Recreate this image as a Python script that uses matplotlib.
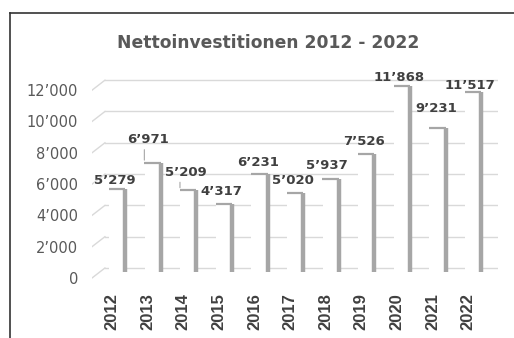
import numpy as np
import matplotlib
matplotlib.use("Agg")
import matplotlib.pyplot as plt
from matplotlib.lines import Line2D

plt.rcParams['font.family'] = ['DejaVu Sans']

# Daten
years = ["2012", "2013", "2014", "2015", "2016", "2017", "2018", "2019", "2020", "2021", "2022"]
values = [5279, 6971, 5209, 4317, 6231, 5020, 5937, 7526, 11868, 9231, 11517]
yticks = [0, 2000, 4000, 6000, 8000, 10000, 12000]

# Label-Versatz in Pixeln (dx, dy)
label_off = [(3, 9), (0, 23), (3, 18), (3, 13), (4, 12), (3, 13), (1, 14), (3, 13), (2, 9), (4, 19), (2, 6)]
leaders = {1, 2}


def fmt(v):
    return f"{v:,}".replace(",", "\u2019")


W, H = 514, 338
fig = plt.figure(figsize=(W / 100, H / 100), dpi=100)
ax = fig.add_axes([92 / W, (H - 282) / H, 406 / W, 212 / H])

px_per_unit = 0.01565          # Pixel pro Wert
front = 6 / px_per_unit        # vordere Ebene (Achsenbeschriftung)
back = 4 / px_per_unit         # hintere Ebene (Gitter)

x = np.arange(len(years))
grid_c = "#d9d9d9"
bar_c = "#a6a6a6"

# Gitter auf der Rückwand + schräge Bodenlinien
for v in yticks:
    ax.plot([-0.197, 10.84], [v + back, v + back], color=grid_c, lw=1.0, zorder=1)
    ax.plot([-0.56, -0.197], [v - front, v + back], color=grid_c, lw=1.0, zorder=1)

# 3D-artige Säulen: weisse Front, graue Seite und Deckel
ax.bar(x + 0.125, values, width=0.42, color="white", zorder=2)
ax.vlines(x + 0.37, 0, values, color=bar_c, lw=3.2, zorder=3)
ax.hlines(values, x - 0.09, x + 0.37, color=bar_c, lw=1.6, zorder=3)

for i, v in enumerate(values):
    dx, dy = label_off[i]
    ax.annotate(fmt(v), (x[i], v), xytext=(dx, dy), textcoords="offset pixels",
                ha="center", va="center", fontsize=9.5, fontweight="bold",
                color="#404040", zorder=4)
    if i in leaders:
        ax.annotate("", (x[i] - 0.09, v), xytext=(x[i] - 0.09, v + (dy - 7) / px_per_unit),
                    arrowprops=dict(arrowstyle="-", color="#a6a6a6", lw=0.8), zorder=4)

ax.set_xlim(-0.56, 10.84)
ax.set_ylim(-639, 12907)
ax.set_yticks([t - front for t in yticks], [fmt(t) for t in yticks])
ax.set_xticks(x, years, rotation=90, fontweight="bold", family=["Liberation Sans"])
ax.tick_params(axis="y", length=0, pad=10, labelsize=10.5, labelcolor="#595959")
ax.tick_params(axis="x", length=0, pad=8, labelsize=12, labelcolor="#404040")
for s in ax.spines.values():
    s.set_visible(False)

fig.text(268 / W, 1 - 43 / H, "Nettoinvestitionen 2012 - 2022", ha="center", va="center",
         fontsize=12.3, fontweight="bold", color="#595959")

# Rahmen
fig.add_artist(Line2D([10 / W, 1], [1 - 13 / H, 1 - 13 / H], color="#333333", lw=1.2))
fig.add_artist(Line2D([10 / W, 10 / W], [0, 1 - 13 / H], color="#333333", lw=1.2))

fig.savefig("out.png", dpi=100)
